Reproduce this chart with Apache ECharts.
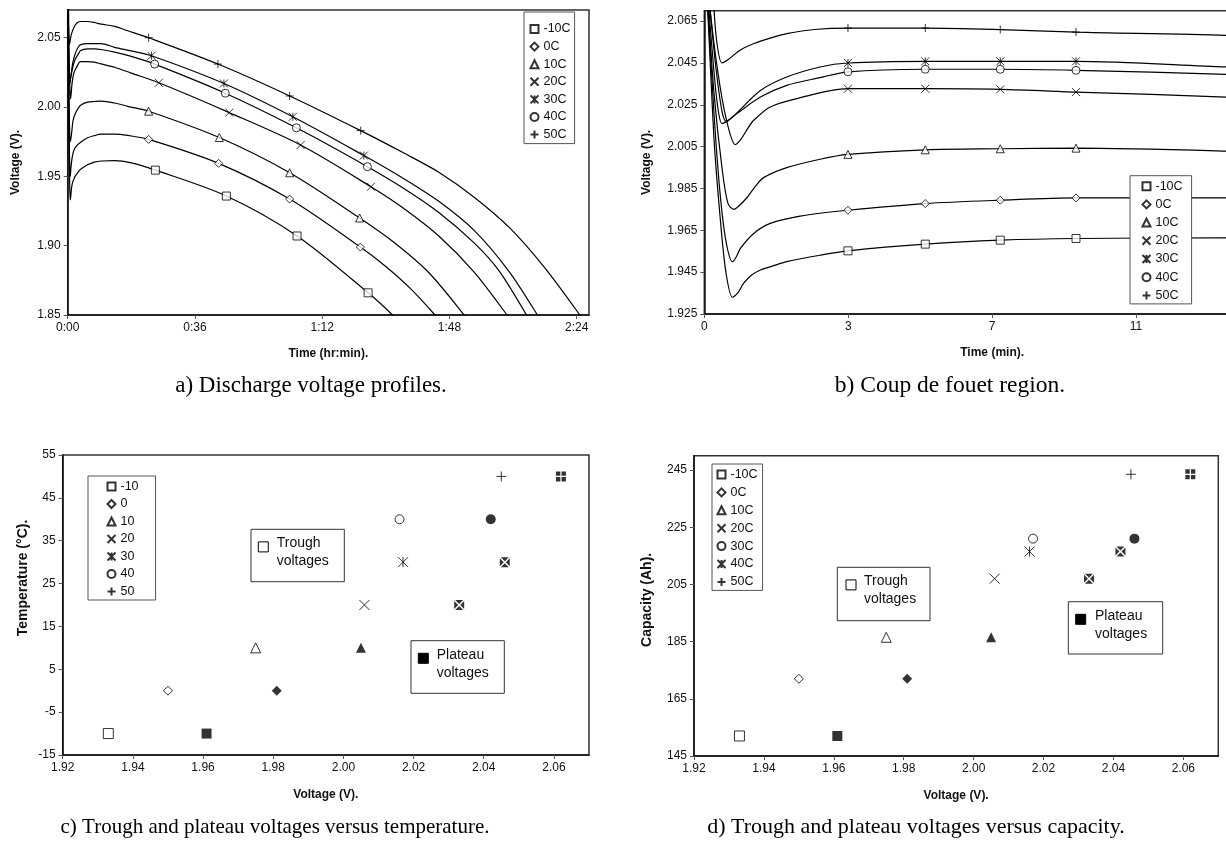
<!DOCTYPE html>
<html>
<head>
<meta charset="utf-8">
<title>Valve-regulated lead-acid cell: discharge and coup de fouet</title>
<script src="https://cdn.jsdelivr.net/npm/echarts@6/dist/echarts.min.js"></script>
<style>
html,body{margin:0;padding:0;background:#fff;}
#chart{width:1226px;height:844px;}
</style>
</head>
<body>
<div id="chart"></div>
<script>
// ---------------- data ----------------
const tempC = [-10, 0, 10, 20, 30, 40, 50];
const tempNamesC = ['-10C', '0C', '10C', '20C', '30C', '40C', '50C'];
const tempNames = ['-10', '0', '10', '20', '30', '40', '50'];

// discharge voltage, [minutes, volts], one curve per temperature
const dischargeM10 = [[0,2.10],[0.1,2.065],[0.25,2.008],[0.4,1.972],[0.55,1.945],[0.72,1.933],[0.85,1.935],[1.0,1.9396],[1.2,1.9435],[1.43,1.946],[1.75,1.948],[2.1,1.95],[2.95,1.9531],[3.66,1.9552],[5.63,1.9584],[7.54,1.9603],[9.47,1.9611],[13.3,1.9614],[18,1.9597],[24.8,1.9545],[44.9,1.9358],[64.9,1.907],[85,1.866],[91.9,1.85],[95,1.841]];
const discharge0 = [[0,2.10],[0.1,2.068],[0.25,2.02],[0.4,1.983],[0.55,1.96],[0.72,1.950],[0.82,1.9525],[0.92,1.9564],[1.26,1.9635],[1.68,1.9683],[2.44,1.9718],[3.66,1.9746],[5.63,1.9778],[7.54,1.9794],[9.47,1.9805],[13.3,1.9805],[17,1.9795],[22.9,1.9767],[42.7,1.9594],[62.8,1.9336],[82.8,1.899],[90,1.885],[97,1.869],[103.9,1.85],[108,1.837]];
const discharge10 = [[0,2.10],[0.1,2.07],[0.25,2.03],[0.45,1.995],[0.6,1.978],[0.75,1.975],[0.9,1.977],[1.09,1.9807],[1.3,1.986],[1.51,1.9902],[2.1,1.995],[2.95,1.999],[3.66,2.0013],[5.63,2.0035],[7.54,2.004],[9.47,2.0043],[13.3,2.0029],[17,2.0005],[22.9,1.997],[42.9,1.978],[62.8,1.9526],[82.6,1.920],[92,1.903],[102,1.881],[112.2,1.85],[116,1.837]];
const discharge20 = [[0,2.10],[0.15,2.07],[0.35,2.04],[0.55,2.019],[0.79,2.006],[0.95,2.009],[1.1,2.0135],[1.26,2.0176],[1.68,2.024],[2.36,2.028],[3.66,2.0327],[5.63,2.0327],[7.54,2.0324],[9.47,2.0311],[13.3,2.0287],[18,2.0245],[25.8,2.0175],[45.7,1.996],[65.9,1.9726],[85.8,1.9425],[95,1.927],[105,1.907],[115,1.881],[124.3,1.85],[128,1.836]];
const discharge30 = [[0,2.10],[0.15,2.07],[0.3,2.042],[0.45,2.022],[0.56,2.017],[0.7,2.0188],[0.92,2.0228],[1.43,2.0319],[2.1,2.0383],[2.95,2.0431],[3.66,2.045],[5.63,2.0458],[7.54,2.0458],[9.47,2.0458],[13.3,2.0431],[18,2.0405],[23.7,2.037],[44.2,2.017],[63.7,1.993],[83.8,1.965],[95,1.9485],[105,1.932],[115,1.911],[125,1.881],[132.9,1.85],[136,1.836]];
const discharge40 = [[0,2.10],[0.12,2.07],[0.25,2.04],[0.35,2.023],[0.45,2.016],[0.6,2.0175],[0.83,2.0208],[1.43,2.0287],[2.1,2.0343],[2.95,2.038],[3.66,2.0408],[5.63,2.042],[7.54,2.042],[9.47,2.0415],[13.3,2.0396],[18,2.0365],[24.6,2.031],[44.6,2.010],[64.7,1.985],[84.8,1.957],[95,1.9415],[105,1.924],[115,1.902],[122,1.882],[129.8,1.85],[133,1.834]];
const discharge50 = [[0,2.12],[0.2,2.085],[0.3,2.058],[0.45,2.045],[0.6,2.0465],[0.9,2.051],[1.25,2.0542],[1.7,2.057],[2.1,2.059],[2.8,2.061],[3.66,2.0617],[5.63,2.0617],[7.54,2.061],[9.47,2.0598],[13.3,2.0582],[17,2.055],[22.9,2.050],[42.5,2.031],[62.8,2.008],[82.9,1.983],[95,1.967],[105,1.953],[115,1.935],[125,1.913],[135,1.884],[144.9,1.85],[148,1.838]];
const dischargeCurves = [dischargeM10, discharge0, discharge10, discharge20, discharge30, discharge40, discharge50];

// minutes at which a marker is drawn on each curve
const markTimesFull = [
  [24.8, 44.9, 64.9, 85],
  [22.9, 42.7, 62.8, 82.8],
  [22.9, 42.9, 62.8, 82.6],
  [25.8, 45.7, 65.9, 85.8],
  [23.7, 44.2, 63.7, 83.8],
  [24.6, 44.6, 64.7, 84.8],
  [22.9, 42.5, 62.8, 82.9]
];
const markTimesStart = [3.66, 5.63, 7.54, 9.47];

// trough and plateau voltages (V) and capacity (Ah) per temperature
const troughV = [1.933, 1.950, 1.975, 2.006, 2.017, 2.016, 2.045];
const plateauV = [1.961, 1.981, 2.005, 2.033, 2.046, 2.042, 2.062];
const capacityAh = [152, 172, 186.5, 207, 221, 216.5, 243.5];

// axis tick values
const ticksTimeHr = [0, 36, 72, 108, 144];
const ticksVoltA = [1.85, 1.90, 1.95, 2.00, 2.05];
const ticksTimeMin = [0, 3.667, 7.333, 11];
const ticksVoltB = [1.925, 1.945, 1.965, 1.985, 2.005, 2.025, 2.045, 2.065];
const ticksVoltX = [1.92, 1.94, 1.96, 1.98, 2.00, 2.02, 2.04, 2.06];
const ticksTemp = [-15, -5, 5, 15, 25, 35, 45, 55];
const ticksCap = [145, 165, 185, 205, 225, 245];

// ---------------- styling ----------------
const SANS = '"Liberation Sans", Arial, Helvetica, sans-serif';
const SERIF = '"Liberation Serif", "Times New Roman", serif';
const INK = '#111';

const P_CROSS = 'path://M0,0L10,10M10,0L0,10';
const P_STAR = 'path://M0,0L10,10M10,0L0,10M5,0L5,10';
const P_PLUS = 'path://M5,0L5,10M0,5L10,5';
const P_XBOX = 'path://M1,0L9,0L5,4ZM10,1L10,9L6,5ZM9,10L1,10L5,6ZM0,9L0,1L4,5Z';
const P_QUAD = 'path://M0,0H4.4V4.4H0ZM5.6,0H10V4.4H5.6ZM0,5.6H4.4V10H0ZM5.6,5.6H10V10H5.6Z';

const openSymbols = ['rect', 'diamond', 'triangle', P_CROSS, P_STAR, 'circle', P_PLUS];
const openSymbolsD = ['rect', 'diamond', 'triangle', P_CROSS, 'circle', P_STAR, P_PLUS];
const filledSymbols = ['rect', 'diamond', 'triangle', P_XBOX, P_XBOX, 'circle', P_QUAD];
const filledSymbolsD = ['rect', 'diamond', 'triangle', P_XBOX, 'circle', P_XBOX, P_QUAD];

function isOpenPath(sym) { return sym === P_CROSS || sym === P_STAR || sym === P_PLUS; }
function openStyle(sym) {
  return { color: isOpenPath(sym) ? 'none' : '#fff', borderColor: '#000', borderWidth: 1 };
}
function filledStyle() { return { color: '#000', borderWidth: 0 }; }

function hm(v) {
  const h = Math.floor(v / 60), m = Math.round(v - h * 60);
  return h + ':' + (m < 10 ? '0' : '') + m;
}

function axis(gridIndex, min, max, ticks, fmt, name, nameGap, nameStyle) {
  return {
    type: 'value', gridIndex, min, max,
    name, nameLocation: 'middle', nameGap,
    nameTextStyle: Object.assign({ fontFamily: SANS, fontWeight: 'bold', fontSize: 12, color: INK }, nameStyle || {}),
    axisLine: { show: true, onZero: false, lineStyle: { color: INK, width: 1.5 } },
    axisTick: { show: true, inside: false, length: 4, customValues: ticks, lineStyle: { color: '#555', width: 1 } },
    axisLabel: { show: true, customValues: ticks, formatter: fmt, color: INK, fontFamily: SANS, fontSize: 12, margin: 7 },
    splitLine: { show: false }
  };
}

const gridStyle = { show: true, borderColor: '#333', borderWidth: 1.5, backgroundColor: 'transparent', outerBoundsMode: 'none', containLabel: false };

// ---------------- series ----------------
const series = [];
const legendA = [], legendB = [], legendC = [], legendD = [];

dischargeCurves.forEach((curve, i) => {
  [0, 1].forEach(g => {
    series.push({
      type: 'line', xAxisIndex: g, yAxisIndex: g, data: curve,
      symbol: 'none', smooth: 0.3, clip: true, silent: true,
      lineStyle: { color: '#000', width: 1.2 }, z: 2
    });
  });
  const pick = times => curve.filter(p => times.some(t => Math.abs(t - p[0]) < 1e-9));
  const sym = openSymbols[i];
  const nameA = 'a|' + tempNamesC[i], nameB = 'b|' + tempNamesC[i];
  legendA.push(nameA); legendB.push(nameB);
  series.push({
    type: 'scatter', name: nameA, xAxisIndex: 0, yAxisIndex: 0, data: pick(markTimesFull[i]),
    symbol: sym, symbolSize: 8, itemStyle: openStyle(sym), z: 4, silent: true
  });
  series.push({
    type: 'scatter', name: nameB, xAxisIndex: 1, yAxisIndex: 1, data: pick(markTimesStart),
    symbol: sym, symbolSize: 8, itemStyle: openStyle(sym), z: 4, silent: true
  });
});

tempC.forEach((t, i) => {
  const nameC = 'c|' + tempNames[i], nameD = 'd|' + tempNamesC[i];
  legendC.push(nameC); legendD.push(nameD);
  const sc = openSymbols[i], sd = openSymbolsD[i];
  series.push({
    type: 'scatter', name: nameC, xAxisIndex: 2, yAxisIndex: 2, data: [[troughV[i], t]],
    symbol: sc, symbolSize: (sc === 'circle' || sc === 'diamond') ? 9 : 10, itemStyle: openStyle(sc), z: 4, silent: true
  });
  series.push({
    type: 'scatter', name: 'cp|' + tempNames[i], xAxisIndex: 2, yAxisIndex: 2, data: [[plateauV[i], t]],
    symbol: filledSymbols[i], symbolSize: 10, itemStyle: filledStyle(), z: 4, silent: true
  });
  series.push({
    type: 'scatter', name: nameD, xAxisIndex: 3, yAxisIndex: 3, data: [[troughV[i], capacityAh[i]]],
    symbol: sd, symbolSize: (sd === 'circle' || sd === 'diamond') ? 9 : 10, itemStyle: openStyle(sd), z: 4, silent: true
  });
  series.push({
    type: 'scatter', name: 'dp|' + tempNamesC[i], xAxisIndex: 3, yAxisIndex: 3, data: [[plateauV[i], capacityAh[i]]],
    symbol: filledSymbolsD[i], symbolSize: 10, itemStyle: filledStyle(), z: 4, silent: true
  });
});

function legend(data, left, top, padding, itemGap) {
  return {
    data, left, top, padding, itemGap, orient: 'vertical',
    itemWidth: 8, itemHeight: 8, selectedMode: false,
    borderColor: '#555', borderWidth: 1, backgroundColor: '#fff', z: 6,
    textStyle: { fontFamily: SANS, fontSize: 12.5, color: INK, lineHeight: 13 },
    formatter: n => n.split('|')[1]
  };
}

// key boxes for trough / plateau voltages
function keyBox(x, y, w, h, mx, my, filled, tx, ty, label) {
  return {
    type: 'group', z: 6, children: [
      { type: 'rect', shape: { x, y, width: w, height: h }, style: { fill: '#fff', stroke: '#333', lineWidth: 1 } },
      { type: 'rect', shape: { x: mx - 5, y: my - 5, width: 10, height: 10 }, style: { fill: filled ? '#000' : '#fff', stroke: '#000', lineWidth: 1 } },
      { type: 'text', x: tx, y: ty, style: { text: label, fontFamily: SANS, fontSize: 14, lineHeight: 17.7, fill: INK, align: 'left', verticalAlign: 'top' } }
    ]
  };
}
function caption(x, y, text, size) {
  return { type: 'text', x, y, z: 6, style: { text, fontFamily: SERIF, fontSize: size, fill: '#000', align: 'center', verticalAlign: 'middle' } };
}

const option = {
  animation: false,
  backgroundColor: '#fff',
  grid: [
    Object.assign({ left: 67.7, top: 10, width: 521.3, height: 305 }, gridStyle),
    Object.assign({ left: 704.3, top: 10.7, width: 575.7, height: 303.3 }, gridStyle),
    Object.assign({ left: 62.7, top: 455, width: 526.3, height: 300 }, gridStyle),
    Object.assign({ left: 694, top: 455.7, width: 524.3, height: 300.3 }, gridStyle)
  ],
  xAxis: [
    axis(0, 0, 147.5, ticksTimeHr, hm, 'Time (hr:min).', 33),
    axis(1, 0, 14.667, ticksTimeMin, v => String(Math.floor(v + 1e-6)), 'Time (min).', 33),
    axis(2, 1.92, 2.07, ticksVoltX, v => v.toFixed(2), 'Voltage (V).', 34),
    axis(3, 1.92, 2.07, ticksVoltX, v => v.toFixed(2), 'Voltage (V).', 34)
  ],
  yAxis: [
    axis(0, 1.85, 2.07, ticksVoltA, v => v.toFixed(2), 'Voltage (V).', 46),
    axis(1, 1.925, 2.07, ticksVoltB, v => v.toFixed(3), 'Voltage (V).', 52),
    axis(2, -15, 55, ticksTemp, v => String(v), 'Temperature (°C).', 33, { fontSize: 14, padding: [0, 0, 0, 54] }),
    axis(3, 145, 250, ticksCap, v => String(v), 'Capacity (Ah).', 40, { fontSize: 14, padding: [0, 0, 0, 12] })
  ],
  legend: [
    legend(legendA, 524, 12, [10.5, 4, 2.5, 4], 4.6),
    legend(legendB, 1130, 175.7, [4, 9, 2, 10], 5.2),
    legend(legendC, 88, 476, [4, 17, 2, 17], 4.5),
    legend(legendD, 712, 464, [4, 5, 2, 3], 4.9)
  ],
  graphic: [
    caption(311, 386, 'a) Discharge voltage profiles.', 23),
    caption(950, 386, 'b) Coup de fouet region.', 23.5),
    caption(275, 827, 'c) Trough and plateau voltages versus temperature.', 21),
    caption(916, 827, 'd) Trough and plateau voltages versus capacity.', 22),
    keyBox(251, 529.3, 93.3, 52.4, 263.3, 546.9, false, 276.7, 534.75, 'Trough\nvoltages'),
    keyBox(411, 640.7, 93.3, 52.6, 423.3, 658.3, true, 436.7, 646.15, 'Plateau\nvoltages'),
    keyBox(837.3, 567.3, 92.7, 53.4, 851, 584.9, false, 864, 572.75, 'Trough\nvoltages'),
    keyBox(1068.3, 601.7, 94.4, 52.3, 1080.7, 619.3, true, 1095, 607.15, 'Plateau\nvoltages')
  ],
  series
};

const chart = echarts.init(document.getElementById('chart'), null, { renderer: 'canvas', width: 1226, height: 844 });
chart.setOption(option);
</script>
</body>
</html>
